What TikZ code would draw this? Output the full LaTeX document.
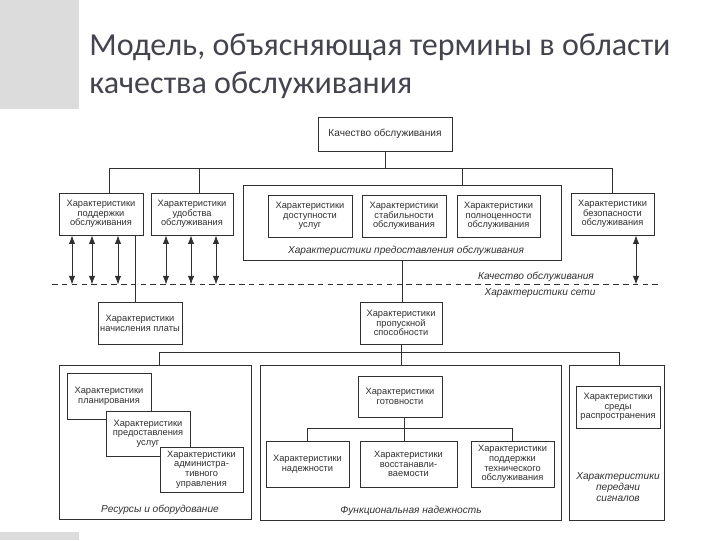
\documentclass[tikz,border=0pt]{standalone}
\usepackage{fontspec}
\setmainfont{Liberation Sans}
\newfontfamily\titlefont{Carlito}
\usetikzlibrary{arrows.meta,calc}
\definecolor{titlegray}{HTML}{44444F}
\definecolor{stripgray}{HTML}{DCDCDC}
\definecolor{linegray}{HTML}{303030}

\begin{document}
\begin{tikzpicture}[x=0.025cm, y=-0.025cm, line width=0.6pt, draw=linegray,
        box/.style={draw, fill=white, inner sep=0pt, align=center, text=linegray, font=\fontsize{6.6}{6.9}\selectfont},
        outer/.style={draw, inner sep=0pt},
        lbl/.style={inner sep=0pt, align=center, text=linegray, font=\fontsize{7.2}{8}\selectfont\itshape},
        dbl/.style={{Latex[length=6pt,width=4.5pt]}-{Latex[length=6pt,width=4.5pt]}}]
        \useasboundingbox (0,0) rectangle (720,540);
        \fill[stripgray] (0,0) rectangle (79,109);
        \fill[stripgray] (0,532) rectangle (79,540);
        \node[anchor=base west, inner sep=0pt, text=titlegray, font=\titlefont\fontsize{22.8}{27}\selectfont] (t1) at (89,55) {Модель, объясняющая термины в области};
        \node[anchor=base west, inner sep=0pt, text=titlegray, font=\titlefont\fontsize{22.8}{27}\selectfont] (t2) at (89,93) {качества обслуживания};

        \node [box, minimum width=3.35cm, minimum height=0.85cm, font=\fontsize{7.2}{8}\selectfont] (q) at (385,134) {Качество обслуживания};
        \node [box, minimum width=2.1cm, minimum height=1.05cm] (sup) at (101,214) {Характеристики\\поддержки\\обслуживания};
        \node [box, minimum width=2.05cm, minimum height=1.05cm] (conv) at (192,214) {Характеристики\\удобства\\обслуживания};
        \node [outer, minimum width=7.95cm, minimum height=1.875cm] (prov) at (402,222.5) {};
        \node [box, minimum width=2.1cm, minimum height=1.05cm] (acc) at (310,216) {Характеристики\\доступности\\услуг};
        \node [box, minimum width=2.1cm, minimum height=1.05cm] (stab) at (404,216) {Характеристики\\стабильности\\обслуживания};
        \node [box, minimum width=2.075cm, minimum height=1.05cm] (compl) at (498.5,216) {Характеристики\\полноценности\\обслуживания};
        \node [lbl] (provlbl) at (406,251) {Характеристики предоставления обслуживания};
        \node [box, minimum width=2.075cm, minimum height=1.05cm] (sec) at (612.5,214) {Характеристики\\безопасности\\обслуживания};

        \coordinate (bus1) at (0,168);
        \draw (q) -- (q |- bus1);
        \draw ([xshift=0.2cm]sup.north |- bus1) -- (sec.north |- bus1);
        \draw ([xshift=0.2cm]sup.north) -- ([xshift=0.2cm]sup.north |- bus1);
        \draw ([xshift=0.175cm]conv.north) -- ([xshift=0.175cm]conv.north |- bus1);
        \draw ([xshift=1.5cm]prov.north) -- ([xshift=1.5cm]prov.north |- bus1);
        \draw (sec.north) -- (sec.north |- bus1);

        \foreach \dx in {-29,-9,17} {
        \draw [dbl] ($(sup.south)+(\dx,0)$) -- ++(0,49);
        }
        \foreach \dx in {-26,-1,24} {
        \draw [dbl] ($(conv.south)+(\dx,0)$) -- ++(0,49);
        }
        \draw [dbl] ($(sec.south)+(23.5,0)$) -- ++(0,49);

        \coordinate (dl) at (52,284);
        \coordinate (dr) at (662,284);
        \draw [dash pattern=on 4pt off 3pt] (dl) -- (dr);
        \node [lbl] (qlbl) at (536,277) {Качество обслуживания};
        \node [lbl] (netlbl) at (540,293) {Характеристики сети};

        \node [box, minimum width=2.1cm, minimum height=1.05cm] (bill) at (140,323) {Характеристики\\начисления платы};
        \node [box, minimum width=2.05cm, minimum height=1.05cm] (cap) at (401,323) {Характеристики\\пропускной\\способности};
        \draw ([xshift=-0.125cm]bill.north) -- ([xshift=-0.125cm]bill.north |- sup.south);
        \draw (prov.south) -- (prov.south |- cap.north);

        \node [outer, minimum width=4.8cm, minimum height=3.85cm] (res) at (155,442) {};
        \node [outer, minimum width=7.525cm, minimum height=3.875cm] (fun) at (410.5,442.5) {};
        \node [outer, minimum width=2.375cm, minimum height=3.875cm] (sig) at (616.5,442.5) {};

        \coordinate (bus2) at (0,352);
        \draw ([xshift=0.1cm]res.north |- bus2) -- ([xshift=0.0625cm]sig.north |- bus2);
        \draw ([xshift=0.1cm]res.north) -- ([xshift=0.1cm]res.north |- bus2);
        \draw ([xshift=0.0625cm]sig.north) -- ([xshift=0.0625cm]sig.north |- bus2);
        \draw (cap.south) -- (cap.south |- fun.north);

        \node [box, minimum width=2.1cm, minimum height=1.15cm] (plan) at (109,396) {Характеристики\\планирования};
        \node [box, minimum width=2.1cm, minimum height=1.125cm] (srv) at (148,433.5) {Характеристики\\предоставления\\услуг};
        \node [box, minimum width=2.075cm, minimum height=1.125cm] (adm) at (201.5,469.5) {Характеристики\\администра-\\тивного\\управления};
        \node [lbl] (reslbl) at (160,510) {Ресурсы и оборудование};

        \node [box, minimum width=2.1cm, minimum height=1.025cm] (ready) at (400,396.5) {Характеристики\\готовности};
        \node [box, minimum width=2.075cm, minimum height=1.15cm] (rel) at (307.5,464) {Характеристики\\надежности};
        \node [box, minimum width=2.425cm, minimum height=1.15cm] (rec) at (408.5,464) {Характеристики\\восстанавли-\\ваемости};
        \node [box, minimum width=2.075cm, minimum height=1.15cm] (tech) at (512.5,464) {Характеристики\\поддержки\\технического\\обслуживания};
        \node [lbl] (funlbl) at (411,511) {Функциональная надежность};

        \coordinate (bus3) at (0,428);
        \draw ([xshift=0.1cm]ready.south) -- ([xshift=0.1cm]ready.south |- rec.north);
        \draw (rel.north |- bus3) -- (tech.north |- bus3);
        \draw (rel.north) -- (rel.north |- bus3);
        \draw (tech.north) -- (tech.north |- bus3);

        \node [box, minimum width=2.1cm, minimum height=1.05cm] (env) at (618,407) {Характеристики\\среды\\распространения};
        \node [lbl] (siglbl) at (618,487) {Характеристики\\передачи\\сигналов};
    \end{tikzpicture}
\end{document}
